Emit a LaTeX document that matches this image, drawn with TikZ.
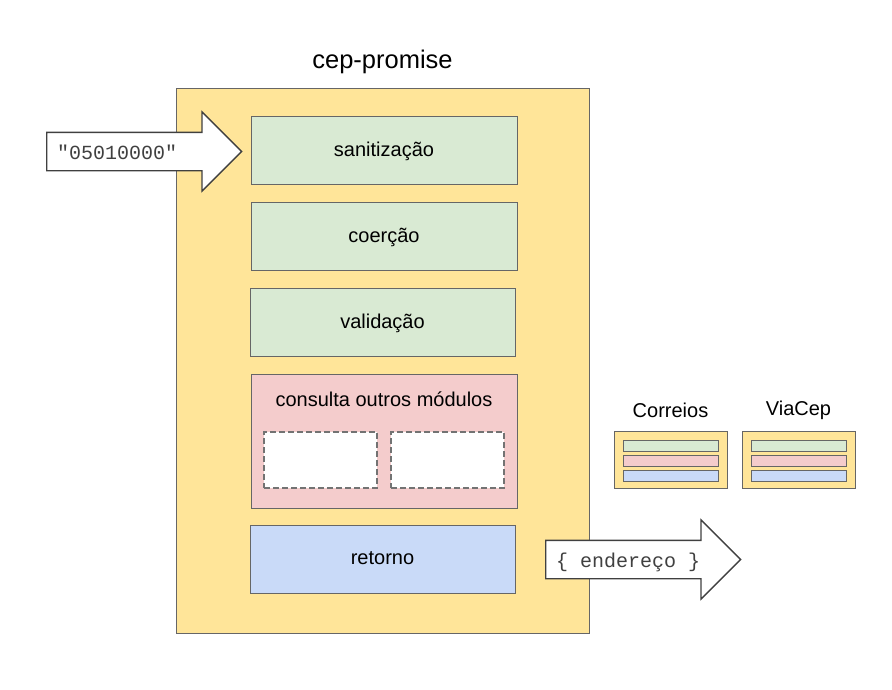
\documentclass[tikz,border=0pt]{standalone}
\usepackage{fontspec}
\setmainfont{Liberation Sans}
\setmonofont{Liberation Mono}
\usetikzlibrary{shapes.arrows}
\definecolor{amarelo}{HTML}{FFE599}
\definecolor{verde}{HTML}{D9EAD3}
\definecolor{vermelho}{HTML}{F4CCCC}
\definecolor{azul}{HTML}{C9DAF8}
\definecolor{borda}{HTML}{666666}

\begin{document}
\begin{tikzpicture}[x=1pt,y=-1pt]
  \tikzstyle{every node}=[font=\fontsize{20}{24}\selectfont]
  \tikzstyle{etapa}=[draw=borda, line width=0.9pt, minimum width=266pt, minimum height=68pt, inner sep=0pt, text depth=1pt]
  \tikzstyle{vazio}=[draw=black!55, dash pattern=on 6pt off 3pt, line width=1.1pt, fill=white, minimum width=113pt, minimum height=56pt]
  \tikzstyle{modulo}=[draw=borda, line width=0.9pt, fill=amarelo, minimum width=113pt, minimum height=57pt]
  \tikzstyle{faixa}=[draw=borda, line width=0.7pt, minimum width=95pt, minimum height=11pt, inner sep=0pt]
  \tikzstyle{seta}=[draw=black!75, line width=1.3pt, fill=white, single arrow, single arrow head extend=20.5pt,
    minimum height=195pt, text height=15pt, text depth=0pt, inner xsep=6pt, inner ysep=11pt,
    font=\ttfamily\fontsize{20}{24}\selectfont, text=black!75]
  \useasboundingbox (0,0) rectangle (892,689);

  \node[draw=borda, line width=0.9pt, fill=amarelo, minimum width=413pt, minimum height=545pt] (cep) at (382.5,360.5) {};
  \node[font=\fontsize{25.5}{30}\selectfont] (titulo) at (382.5,62) {cep-promise};

  \node[etapa, fill=verde] (san) at (384,150) {sanitização};
  \node[etapa, fill=verde] (coer) at (384,236) {coerção};
  \node[etapa, fill=verde, minimum width=265pt] (valid) at (382.5,322) {validação};
  \node[etapa, fill=vermelho, minimum height=134pt] (consulta) at (384,441) {};
  \node (consultatxt) at (384,399) {consulta outros módulos};
  \node[vazio] (vazioA) at (320.5,460) {};
  \node[vazio] (vazioB) at (447.5,460) {};
  \node[etapa, fill=azul, minimum width=265pt] (retorno) at (382.5,559) {retorno};

  \node[seta, anchor=tail] (entrada) at (46,151.5) {\hspace*{-35pt}"05010000"};
  \node[seta, anchor=tail] (saida) at (545,559.5) {\hspace*{-11pt}\{ endereço \}};

  \node (correioslbl) at (670.5,410) {Correios};
  \node[modulo] (correios) at (670.5,459.5) {};
  \node[faixa, fill=verde] (correiosA) at (670.5,445.5) {};
  \node[faixa, fill=vermelho] (correiosB) at (670.5,460.5) {};
  \node[faixa, fill=azul] (correiosC) at (670.5,475.5) {};

  \node (viaceplbl) at (798.5,410) {ViaCep};
  \node[modulo] (viacep) at (798.5,459.5) {};
  \node[faixa, fill=verde] (viacepA) at (798.5,445.5) {};
  \node[faixa, fill=vermelho] (viacepB) at (798.5,460.5) {};
  \node[faixa, fill=azul] (viacepC) at (798.5,475.5) {};
\end{tikzpicture}
\end{document}
